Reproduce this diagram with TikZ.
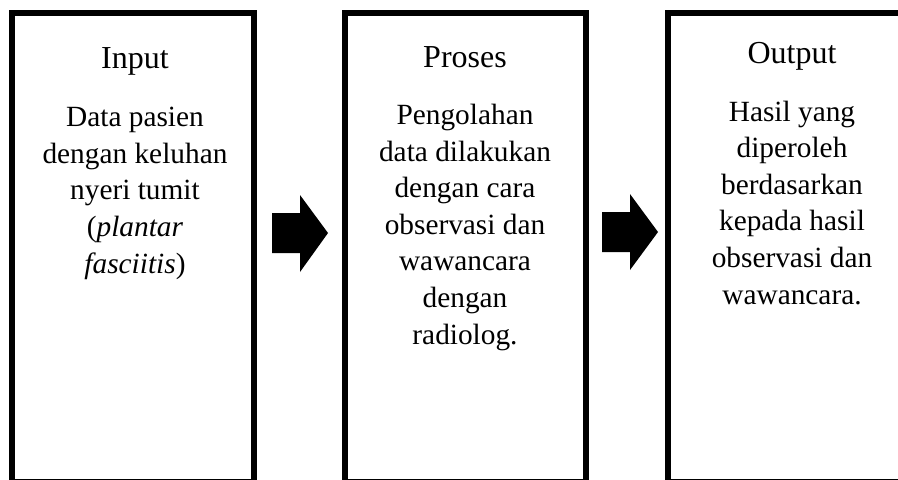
\documentclass[tikz,border=0pt]{standalone}
\usepackage{fontspec}
\setmainfont{Liberation Serif}
\begin{document}
\begin{tikzpicture}[x=0.75pt,y=-0.75pt,
  box/.style={draw=black, line width=4.5pt, inner sep=0pt, outer sep=0pt, anchor=north west, minimum height=351.4pt},
  txt/.style={font=\fontsize{22}{27.4}\selectfont, inner sep=0pt, outer sep=0pt, align=center, anchor=base},
  title/.style={txt, font=\fontsize{24}{27.4}\selectfont},
  blockarrow/.style={fill=black}
]
\useasboundingbox (0,0) rectangle (898,479);
\clip (0,0) rectangle (898,479);
\node[box, minimum width=181.5pt] (b1) at (12,13) {};
\node[box, minimum width=180.75pt] (b2) at (345,13) {};
\node[box, minimum width=186pt] (b3) at (668,13) {};

\node[title] (t1) at (135,68) {Input};
\node[title] (t2) at (465,67) {Proses};
\node[title] (t3) at (792,63) {Output};

% multi-line nodes: base anchor is the last line's baseline
\node[txt] (d1) at (135,273) {Data pasien\\dengan keluhan\\nyeri tumit\\(\textit{plantar}\\\textit{fasciitis})};
\node[txt] (d2) at (465,344) {Pengolahan\\data dilakukan\\dengan cara\\observasi dan\\wawancara\\dengan\\radiolog.};
\node[txt] (d3) at (792,304) {Hasil yang\\diperoleh\\berdasarkan\\kepada hasil\\observasi dan\\wawancara.};

\coordinate (a1) at (272,233);
\coordinate (a2) at (602,232);
\fill[blockarrow] (a1) ++(0,-20) -- ++(28,0) -- ++(0,-18) -- ++(28,38) -- ++(-28,39) -- ++(0,-19) -- ++(-28,0) -- cycle;
\fill[blockarrow] (a2) ++(0,-20) -- ++(28,0) -- ++(0,-18) -- ++(28,38) -- ++(-28,38) -- ++(0,-18) -- ++(-28,0) -- cycle;
\end{tikzpicture}
\end{document}
